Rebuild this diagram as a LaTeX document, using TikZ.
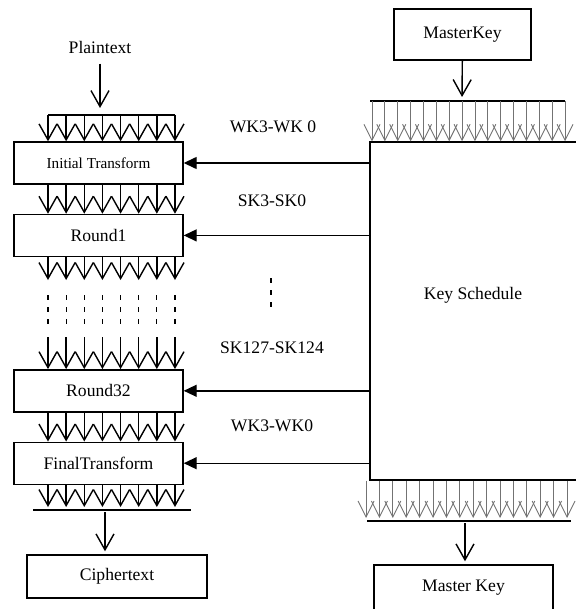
\documentclass[tikz,border=0pt]{standalone}
\usepackage{fontspec}
\setmainfont{Liberation Serif}
\usetikzlibrary{arrows.meta, positioning, calc}
\tikzset{
  sbox/.style={draw, line width=0.7pt, minimum width=84.5pt, minimum height=21pt, inner sep=0pt, font=\fontsize{8.8}{10}\selectfont},
  kbox/.style={draw, line width=0.7pt, inner sep=0pt},
  ktxt/.style={font=\fontsize{8.8}{10}\selectfont, inner sep=1pt},
  zz/.style={-{Straight Barb[length=8pt, width=9pt]}, line width=0.7pt},
  kz/.style={-{Straight Barb[length=8pt, width=8pt]}, line width=0.45pt, black!55},
  bar/.style={line width=0.7pt},
  kflow/.style={-{Triangle[length=6.5pt, width=6pt]}, line width=0.7pt},
  dots/.style={line width=0.6pt, dash pattern=on 2.5pt off 3.5pt},
}
\begin{document}
\begin{tikzpicture}[x=0.5pt, y=-0.5pt, node distance=14.5pt]
  \useasboundingbox (0,0) rectangle (576,609);
  \clip (0,0) rectangle (576,609);
  % cipher column
  \node[ktxt] (plain) at (100,47) {Plaintext};
  \node[sbox, font=\fontsize{7.6}{9}\selectfont] (init) at (98.5,163) {Initial Transform};
  \node[sbox, below=of init] (round1) {Round1};
  \node[sbox, below=56pt of round1] (round32) {Round32};
  \node[sbox, below=of round32] (final) {FinalTransform};
  \node[sbox, minimum width=90pt, minimum height=21.5pt] (cipher) at (117,576.5) {Ciphertext};
  % key column
  \node[sbox, minimum width=68.5pt, minimum height=25.5pt] (mkey) at (462.5,34.5) {MasterKey};
  \node[kbox, minimum width=115pt, minimum height=169pt] (ksched) at (485,311) {};
  \node[ktxt] (kslbl) at (473,295) {Key Schedule};
  \node[sbox, minimum width=89.5pt, minimum height=23pt] (mkey2) at (463.5,588) {Master Key};
  % subkey labels
  \node[ktxt] (wk1) at (273,127) {WK3-WK 0};
  \node[ktxt] (sk1) at (272,201) {SK3-SK0};
  \node[ktxt] (sk2) at (272,348) {SK127-SK124};
  \node[ktxt] (wk2) at (272,426) {WK3-WK0};
  \coordinate (kdtop) at (271,278);
  \coordinate (kdbot) at (271,308);
  \draw[dots] (kdtop) -- (kdbot);

  \coordinate (pbar) at (100,115);
  \coordinate (rout) at (0,280);
  \coordinate (dtop) at (0,295);
  \coordinate (dbot) at (0,325);
  \coordinate (rin) at (0,337);
  \coordinate (cbar) at (105,510);
  \coordinate (cbarL) at (33,510);
  \coordinate (cbarR) at (191,510);
  \coordinate (kbar) at (462,101);
  \coordinate (kbarL) at (370,101);
  \coordinate (kbarR) at (565,101);
  \coordinate (sbar) at (465,521);
  \coordinate (sbarL) at (367,521);
  \coordinate (sbarR) at (571,521);

  % data path
  \draw[zz, shorten <=4pt, shorten >=3.5pt] (plain) -- (pbar);
  \draw[bar] (pbar -| 48,0) -- (pbar -| 175,0);
  \foreach \i in {0,...,7} {
    \coordinate (c\i) at (48+18.14*\i,0);
    \draw[zz] (pbar -| c\i) -- (c\i |- init.north);
    \draw[zz] (c\i |- init.south) -- (c\i |- round1.north);
    \draw[zz] (c\i |- round1.south) -- (c\i |- rout);
    \draw[dots] (c\i |- dtop) -- (c\i |- dbot);
    \draw[zz] (c\i |- rin) -- (c\i |- round32.north);
    \draw[zz] (c\i |- round32.south) -- (c\i |- final.north);
    \draw[zz, shorten >=1.5pt] (c\i |- final.south) -- (c\i |- cbar);
  }
  \draw[bar] (cbarL) -- (cbarR);
  \draw[zz, shorten <=1pt, shorten >=1.5pt] (cbar) -- (cbar |- cipher.north);

  % key path
  \draw[zz, shorten >=2pt] (mkey) -- (kbar);
  \draw[bar] (kbarL) -- (kbarR);
  \foreach \i in {0,...,15} {
    \coordinate (k\i) at (372+12.87*\i,0);
    \coordinate (b\i) at (366+13.4*\i,0);
    \draw[kz] (kbar -| k\i) -- (k\i |- ksched.north);
    \draw[kz, shorten >=1.5pt] (b\i |- ksched.south) -- (b\i |- sbar);
  }
  \draw[bar] (sbarL) -- (sbarR);
  \draw[zz, shorten <=1pt, shorten >=1.5pt] (sbar) -- (sbar |- mkey2.north);

  \draw[kflow] (init.east -| ksched.west) -- (init.east);
  \draw[kflow] (round1.east -| ksched.west) -- (round1.east);
  \draw[kflow] (round32.east -| ksched.west) -- (round32.east);
  \draw[kflow] (final.east -| ksched.west) -- (final.east);
\end{tikzpicture}
\end{document}
